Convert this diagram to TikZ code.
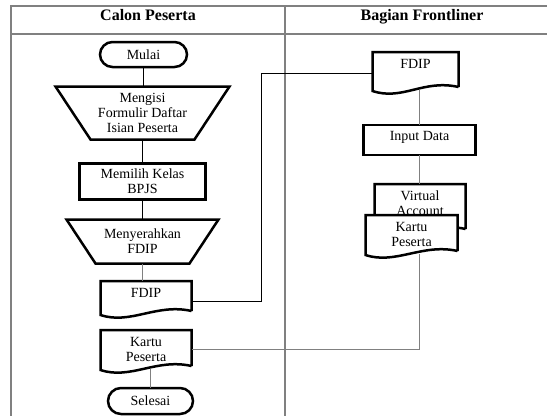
\documentclass[tikz,border=0pt]{standalone}
\usepackage{fontspec}
\setmainfont{Liberation Serif}
\usetikzlibrary{calc,shapes.misc}
% outline of a document symbol round a named node
\newcommand{\docoutline}[1]{%
  \draw[outline] ($(#1.south east)+(0,-3)$) -- (#1.north east) -- (#1.north west)
    -- ($(#1.south west)+(0,1)$)
    .. controls ($(#1.south west)+(30,11)$) and ($(#1.south east)+(-35,-11)$)
    .. ($(#1.south east)+(0,-3)$);}
\begin{document}
\begin{tikzpicture}
  [x=1pt,y=-1pt,
   every node/.style={font=\fontsize{14}{15}\selectfont},
   head/.style={anchor=base,font=\fontsize{16}{18}\selectfont\bfseries},
   outline/.style={draw=black,line width=2.5pt},
   block/.style={rectangle,outline,align=center,outer sep=0,inner sep=1pt},
   terminal/.style={rounded rectangle,outline,outer sep=0,inner sep=0},
   manual/.style={rectangle,align=center,outer sep=0,inner sep=0},
   document/.style={rectangle,fill=white,align=center,outer sep=0,inner sep=0},
   conn/.style={draw=black!50,line width=1.2pt},
   connb/.style={draw=black,line width=1pt},
   lane/.style={draw=black!50,line width=1.5pt}]
  \useasboundingbox (0,0) rectangle (547,416);
  % swimlanes
  \draw[lane] (547,6) -- (11,6) -- (11,416);
  \draw[lane] (11,34) -- (547,34);
  \draw[lane] (285,6) -- (285,416);
  \node[head] (calon) at (148,20) {Calon Peserta};
  \node[head] (front) at (422,20) {Bagian Frontliner};
  % calon peserta
  \node[terminal,minimum width=87,minimum height=25] (mulai) at (143.5,54.5) {Mulai};
  \node[manual,minimum width=174,minimum height=53] (isi) at (142.5,113) {Mengisi\\Formulir Daftar\\Isian Peserta};
  \draw[outline] (isi.north west) -- (isi.north east) -- ([xshift=-35]isi.south east) -- ([xshift=35]isi.south west) -- cycle;
  \node[block,minimum width=126,minimum height=36] (kelas) at (142.5,181.5) {Memilih Kelas\\BPJS};
  \node[manual,minimum width=152,minimum height=44] (serah) at (142.5,241.5) {Menyerahkan\\FDIP};
  \draw[outline] (serah.north west) -- (serah.north east) -- ([xshift=-29]serah.south east) -- ([xshift=29]serah.south west) -- cycle;
  \node[document,minimum width=91,minimum height=33,text depth=9] (fdipL) at (146,297.5) {FDIP};
  \docoutline{fdipL}
  \node[document,minimum width=91,minimum height=39] (kartuL) at (146,349.5) {Kartu\\Peserta};
  \docoutline{kartuL}
  \node[terminal,minimum width=85,minimum height=26] (selesai) at (150.5,401) {Selesai};
  % bagian frontliner
  \node[document,minimum width=86,minimum height=38,text depth=14] (fdipR) at (415.5,71) {FDIP};
  \docoutline{fdipR}
  \node[block,minimum width=112,minimum height=30,text depth=8] (input) at (419.5,140) {Input Data};
  \node[document,minimum width=91,minimum height=48,text depth=10] (va) at (420,208) {Virtual\\Account};
  \docoutline{va}
  \node[document,minimum width=92,minimum height=39] (kartuR) at (411.5,234.5) {Kartu\\Peserta};
  \docoutline{kartuR}
  % connectors
  \draw[connb] (mulai.south) -- (mulai.south |- isi.north);
  \draw[connb] (isi) -- (kelas);
  \draw[connb] (kelas) -- (serah);
  \draw[conn] (serah.south) -- (serah.south |- fdipL.north);
  \draw[conn] (selesai.north |- kartuL.south) -- (selesai.north);
  \draw[connb] ([yshift=-4]fdipL.east) -- ++(70,0) |- ([yshift=-2]fdipR.west);
  \draw[conn] (fdipR.south -| input) -- (input.north);
  \draw[conn] (input.south) -- (input.south |- va.north);
  \draw[conn] (kartuR.south -| input) |- (kartuL.east);
\end{tikzpicture}
\end{document}
